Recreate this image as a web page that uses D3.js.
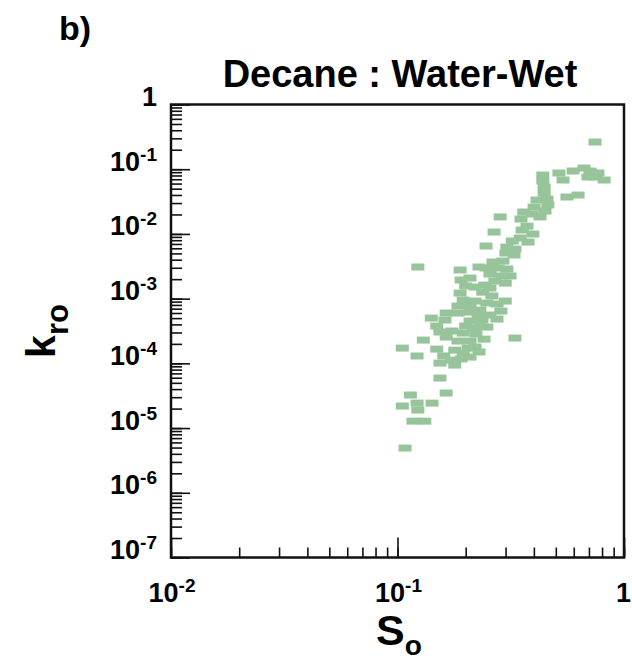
<!DOCTYPE html>
<html>
<head>
<meta charset="utf-8">
<script src="https://cdn.jsdelivr.net/npm/d3@7"></script>
<style>
  body { margin: 0; background: #fff; }
  svg { display: block; font-family: "Liberation Sans", Arial, Helvetica, sans-serif; font-weight: bold; }
  .tick line { stroke: #111; stroke-width: 1.6; }
</style>
</head>
<body>
<script>
// DATA
var soValues = [
  0.745, 0.516, 0.538, 0.596, 0.666, 0.708, 0.767, 0.817, 0.693, 0.751,
  0.560, 0.627, 0.438, 0.438, 0.444, 0.444, 0.457, 0.413, 0.461, 0.401,
  0.448, 0.426, 0.393, 0.361, 0.351, 0.373, 0.355, 0.396, 0.348, 0.284,
  0.267, 0.246, 0.321, 0.304, 0.330, 0.301, 0.327, 0.123, 0.189, 0.229,
  0.264, 0.292, 0.278, 0.304, 0.256, 0.289, 0.269, 0.299, 0.243, 0.209,
  0.191, 0.200, 0.220, 0.189, 0.238, 0.261, 0.195, 0.220, 0.248, 0.299,
  0.275, 0.286, 0.275, 0.231, 0.209, 0.185, 0.164, 0.162, 0.141, 0.149,
  0.209, 0.236, 0.218, 0.248, 0.154, 0.164, 0.195, 0.222, 0.241, 0.209,
  0.185, 0.130, 0.330, 0.105, 0.122, 0.149, 0.160, 0.154, 0.174, 0.195,
  0.191, 0.220, 0.229, 0.154, 0.164, 0.142, 0.114, 0.105, 0.122, 0.123,
  0.117, 0.132, 0.108,
  0.185, 0.209, 0.256, 0.227, 0.200, 0.231, 0.174, 0.179, 0.205, 0.209,
  0.179, 0.246, 0.314, 0.256, 0.377
];
var kroValues = [
  0.263, 0.0874, 0.0681, 0.0938, 0.1043, 0.0938, 0.0874, 0.0681, 0.0757, 0.0757,
  0.0372, 0.0399, 0.0813, 0.0657, 0.0531, 0.0429, 0.0346, 0.0334, 0.0280, 0.0260,
  0.0226, 0.0183, 0.0203, 0.0218, 0.0170, 0.0132, 0.0115, 0.00997, 0.00865, 0.0183,
  0.0107, 0.00650, 0.00777, 0.00627, 0.00584, 0.00507, 0.00472, 0.00308, 0.00277, 0.00308,
  0.00368, 0.00381, 0.00297, 0.00287, 0.00240, 0.00224, 0.00187, 0.00174, 0.00162, 0.00208,
  0.00194, 0.00157, 0.00151, 0.00122, 0.00126, 0.00110, 0.000951, 0.000918, 0.000855, 0.000918,
  0.000825, 0.000643, 0.000484, 0.000666, 0.000621, 0.000599, 0.000599, 0.000467, 0.000501, 0.000377,
  0.000451, 0.000467, 0.000351, 0.000364, 0.000305, 0.000255, 0.000294, 0.000284, 0.000237, 0.000221,
  0.000221, 0.000229, 0.000246, 0.000172, 0.000130, 0.000166, 0.000130, 0.000101, 0.000112, 0.000144,
  0.000117, 0.000179, 0.000150, 0.0000593, 0.0000348, 0.0000243, 0.0000324, 0.0000219, 0.0000243, 0.0000190,
  0.0000128, 0.0000128, 0.00000491,
  0.000769, 0.000769, 0.000558, 0.000538, 0.000377, 0.000377, 0.000316, 0.000160, 0.000172, 0.000125,
  0.0000941, 0.00297, 0.00224, 0.00146, 0.00749
];

var xMajorTicks = [1e-2, 1e-1, 1];
var xTickLabels = [['10', '-2'], ['10', '-1'], ['1', '']];
var yMajorTicks = [1, 1e-1, 1e-2, 1e-3, 1e-4, 1e-5, 1e-6, 1e-7];
var yTickLabels = [['1', ''], ['10', '-1'], ['10', '-2'], ['10', '-3'],
                   ['10', '-4'], ['10', '-5'], ['10', '-6'], ['10', '-7']];

// SET UP DIMENSIONS
var w = 632,
    h = 662;

var plot = { left: 171, right: 624, top: 104.5, bottom: 557.5 };

var pointColor = '#97c49a',
    pointW = 13,
    pointH = 7;

var svg = d3.select('body').append('svg')
  .attr('width', w)
  .attr('height', h);

// SCALES
var xScale = d3.scaleLog()
  .domain([1e-2, 1])
  .range([plot.left, plot.right]);

var yScale = d3.scaleLog()
  .domain([1e-7, 1])
  .range([plot.bottom, plot.top]);

// POINTS
svg.append('g')
  .selectAll('rect')
  .data(d3.zip(soValues, kroValues))
  .enter().append('rect')
    .attr('x', function(d) { return xScale(d[0]) - pointW / 2; })
    .attr('y', function(d) { return yScale(d[1]) - pointH / 2; })
    .attr('width', pointW)
    .attr('height', pointH)
    .attr('fill', pointColor);

// TICKS (pointing into the plot, minor then major)
function addAxis(axis, x, y) {
  var g = svg.append('g')
    .attr('transform', translation(x, y))
    .call(axis);
  g.select('.domain').remove();
  return g;
}

addAxis(d3.axisBottom(xScale).tickValues(xScale.ticks()).tickSize(-10).tickFormat(''), 0, plot.bottom);
addAxis(d3.axisBottom(xScale).tickValues(xMajorTicks).tickSize(-20).tickFormat(''), 0, plot.bottom);
addAxis(d3.axisLeft(yScale).tickValues(yScale.ticks()).tickSize(-11).tickFormat(''), plot.left, 0);
addAxis(d3.axisLeft(yScale).tickValues(yMajorTicks).tickSize(-19).tickFormat(''), plot.left, 0);

// FRAME
svg.append('rect')
  .attr('x', plot.left)
  .attr('y', plot.top)
  .attr('width', plot.right - plot.left)
  .attr('height', plot.bottom - plot.top)
  .attr('fill', 'none')
  .attr('stroke', '#111')
  .attr('stroke-width', 2.5);

// TICK LABELS with superscript exponents
function powerLabel(sel, parts) {
  sel.append('tspan').style('font-size', '27px').text(parts[0]);
  if (parts[1]) {
    sel.append('tspan').style('font-size', '19px').attr('dy', -10).text(parts[1]);
  }
}

xMajorTicks.forEach(function(v, i) {
  var last = i === xMajorTicks.length - 1;
  var t = svg.append('text')
    .attr('x', last ? 631 : xScale(v) + 1)
    .attr('y', 602)
    .attr('text-anchor', last ? 'end' : 'middle');
  powerLabel(t, xTickLabels[i]);
});

yMajorTicks.forEach(function(v, i) {
  var t = svg.append('text')
    .attr('x', 157)
    .attr('y', yScale(v) + 1.5)
    .attr('text-anchor', 'end');
  powerLabel(t, yTickLabels[i]);
});

// TITLES
svg.append('text')
  .attr('x', 59)
  .attr('y', 40)
  .style('font-size', '34px')
  .text('b)');

svg.append('text')
  .attr('x', 400)
  .attr('y', 87)
  .attr('text-anchor', 'middle')
  .style('font-size', '38px')
  .text('Decane : Water-Wet');

var xLabel = svg.append('text')
  .attr('x', 399)
  .attr('y', 645)
  .attr('text-anchor', 'middle');
xLabel.append('tspan').style('font-size', '43px').text('S');
xLabel.append('tspan').style('font-size', '28px').attr('dy', 10).text('o');

var yLabel = svg.append('text')
  .attr('transform', translation(55, 331) + 'rotate(-90)')
  .attr('text-anchor', 'middle');
yLabel.append('tspan').style('font-size', '41px').text('k');
yLabel.append('tspan').style('font-size', '31px').attr('dy', 13).text('ro');

function translation(x, y) {
  return 'translate(' + x + ',' + y + ')';
}
</script>
</body>
</html>
